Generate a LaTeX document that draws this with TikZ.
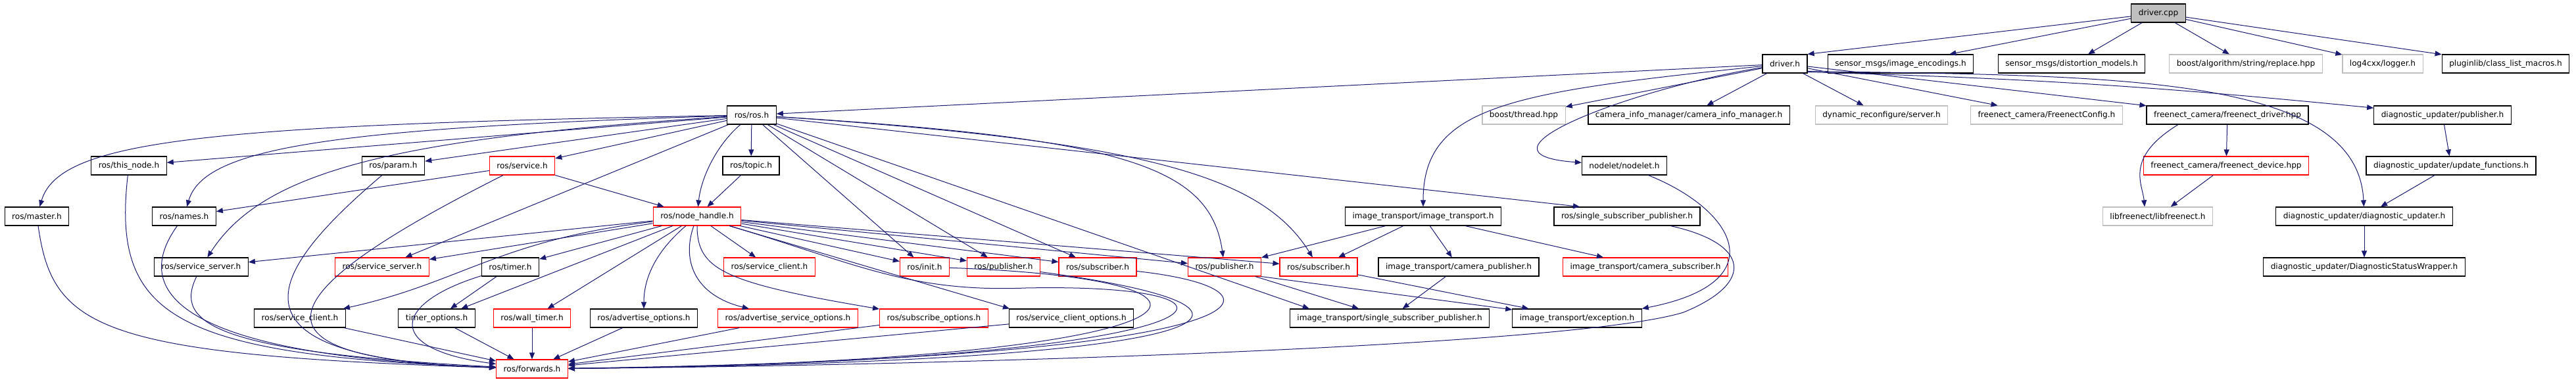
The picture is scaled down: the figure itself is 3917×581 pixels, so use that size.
\documentclass[tikz,border=0pt]{standalone}
\usepackage{fontspec}
\setmainfont{DejaVu Sans}
\usetikzlibrary{arrows.meta}
\definecolor{edgeblue}{HTML}{191970}
\definecolor{truncred}{HTML}{FF0000}
\definecolor{extgray}{HTML}{BFBFBF}
\tikzset{
  incl/.style={draw=black, line width=0.6pt, rectangle, minimum height=14pt,
    inner xsep=5.5pt, inner ysep=0pt, font=\fontsize{6.05}{7}\selectfont},
  incltrunc/.style={incl, draw=truncred},
  inclext/.style={incl, draw=extgray},
  srcfile/.style={incl, fill=extgray},
  dep/.style={draw=edgeblue, line width=0.5pt, -{Triangle[length=5pt,width=4pt]}}
}
\begin{document}
\begin{tikzpicture}[x=0.5pt, y=0.5pt]
      \useasboundingbox (0,0) rectangle (3917,-581);
      \node[srcfile] (cpp) at (3282,-20) {driver.cpp};
      \node[incl] (drv) at (2714,-97) {driver.h};
      \node[incl] (enc) at (2890,-97) {sensor\_msgs/image\_encodings.h};
      \node[incl] (dist) at (3150,-97) {sensor\_msgs/distortion\_models.h};
      \node[inclext] (repl) at (3415,-97) {boost/algorithm/string/replace.hpp};
      \node[inclext] (logger) at (3623,-97) {log4cxx/logger.h};
      \node[incl] (plug) at (3810,-97) {pluginlib/class\_list\_macros.h};
      \node[incl] (rosh) at (1143,-175) {ros/ros.h};
      \node[inclext] (thr) at (2317,-175) {boost/thread.hpp};
      \node[incl] (cim) at (2568,-175) {camera\_info\_manager/camera\_info\_manager.h};
      \node[inclext] (dyn) at (2861,-175) {dynamic\_reconfigure/server.h};
      \node[inclext] (fcfg) at (3112,-175) {freenect\_camera/FreenectConfig.h};
      \node[incl] (fdrv) at (3387,-175) {freenect\_camera/freenect\_driver.hpp};
      \node[incl] (dpub) at (3714,-175) {diagnostic\_updater/publisher.h};
      \node[incl] (thisn) at (196,-252) {ros/this\_node.h};
      \node[incl] (param) at (598,-252) {ros/param.h};
      \node[incltrunc] (srv) at (794,-252) {ros/service.h};
      \node[incl] (topic) at (1142,-252) {ros/topic.h};
      \node[incl] (nodelet) at (2470,-252) {nodelet/nodelet.h};
      \node[incltrunc] (fdev) at (3385,-252) {freenect\_camera/freenect\_device.hpp};
      \node[incl] (dupf) at (3727,-252) {diagnostic\_updater/update\_functions.h};
      \node[incl] (master) at (56,-329) {ros/master.h};
      \node[incl] (names) at (280,-329) {ros/names.h};
      \node[incltrunc] (nh) at (1060,-329) {ros/node\_handle.h};
      \node[incl] (itr) at (2164,-329) {image\_transport/image\_transport.h};
      \node[incl] (sspros) at (2474,-329) {ros/single\_subscriber\_publisher.h};
      \node[inclext] (libf) at (3281,-329) {libfreenect/libfreenect.h};
      \node[incl] (dupd) at (3595,-329) {diagnostic\_updater/diagnostic\_updater.h};
      \node[incl] (ssrv) at (306,-406) {ros/service\_server.h};
      \node[incltrunc] (ssrvr) at (581,-406) {ros/service\_server.h};
      \node[incl] (timer) at (776,-406) {ros/timer.h};
      \node[incltrunc] (sclir) at (1170,-406) {ros/service\_client.h};
      \node[incltrunc] (init) at (1406,-406) {ros/init.h};
      \node[incltrunc] (puba) at (1526,-406) {ros/publisher.h};
      \node[incltrunc] (suba) at (1669,-406) {ros/subscriber.h};
      \node[incltrunc] (pubb) at (1862,-406) {ros/publisher.h};
      \node[incltrunc] (subb) at (2005,-406) {ros/subscriber.h};
      \node[incl] (campub) at (2218,-406) {image\_transport/camera\_publisher.h};
      \node[incltrunc] (camsub) at (2502,-406) {image\_transport/camera\_subscriber.h};
      \node[incl] (dsw) at (3595,-406) {diagnostic\_updater/DiagnosticStatusWrapper.h};
      \node[incl] (scli) at (456,-484) {ros/service\_client.h};
      \node[incl] (topt) at (664,-484) {timer\_options.h};
      \node[incltrunc] (wallt) at (809,-484) {ros/wall\_timer.h};
      \node[incl] (advo) at (979,-484) {ros/advertise\_options.h};
      \node[incltrunc] (advso) at (1198,-484) {ros/advertise\_service\_options.h};
      \node[incltrunc] (subo) at (1420,-484) {ros/subscribe\_options.h};
      \node[incl] (sclo) at (1629,-484) {ros/service\_client\_options.h};
      \node[incl] (itssp) at (2113,-484) {image\_transport/single\_subscriber\_publisher.h};
      \node[incl] (itexc) at (2398,-484) {image\_transport/exception.h};
      \node[incltrunc] (fwd) at (809,-561) {ros/forwards.h};
      \draw[dep] (cpp) to (drv.north east);
      \draw[dep] (cpp) to (enc);
      \draw[dep] (cpp) to (dist);
      \draw[dep] (cpp) to (repl);
      \draw[dep] (cpp) to (logger);
      \draw[dep] (cpp) to (plug);
      \draw[dep] (drv) to (rosh);
      \draw[dep] (drv) to (thr);
      \draw[dep] (drv) to (cim);
      \draw[dep] (drv) to (dyn);
      \draw[dep] (drv) to (fcfg);
      \draw[dep] (drv) to (fdrv);
      \draw[dep] (drv.-20) to[bend left=2] (dpub);
      \draw[dep] (drv.-18) .. controls (3200,-116) and (3585,-110) .. (dupd);
      \draw[dep] (drv) .. controls (2480,-135) and (2220,-234) .. (nodelet);
      \draw[dep] (drv) .. controls (2300,-140) and (2164,-160) .. (itr);
      \draw[dep] (fdrv) to (fdev);
      \draw[dep] (fdrv.-169) .. controls (3230,-240) and (3258,-280) .. ([xshift=-10pt]libf.north);
      \draw[dep] (fdev) to (libf);
      \draw[dep] (dpub) to (dupf);
      \draw[dep] (dupf) to (dupd);
      \draw[dep] (dupd) to (dsw);
      \draw[dep] (rosh) .. controls (300,-190) and (90,-215) .. (master);
      \draw[dep] (rosh) to (thisn);
      \draw[dep] (rosh) .. controls (500,-195) and (310,-225) .. (names);
      \draw[dep] (rosh) .. controls (600,-210) and (400,-260) .. (ssrv);
      \draw[dep] (rosh) to (param);
      \draw[dep] (rosh) to (srv);
      \draw[dep] (rosh) to (ssrvr);
      \draw[dep] (rosh) to (topic);
      \draw[dep] (rosh) .. controls (1090,-220) and (1066,-270) .. (nh);
      \draw[dep] (rosh) to (init);
      \draw[dep] (rosh) to (puba);
      \draw[dep] (rosh) to (suba);
      \draw[dep] (rosh) to ([xshift=15pt]itssp.north west);
      \draw[dep] (rosh) .. controls (1700,-210) and (1840,-250) .. (pubb);
      \draw[dep] (rosh) .. controls (1750,-215) and (1920,-270) .. (subb);
      \draw[dep] (rosh) to ([xshift=-36pt]sspros.north);
      \draw[dep] (topic) to (nh);
      \draw[dep] (srv) to (names);
      \draw[dep] (srv) to (nh);
      \draw[dep] (srv) .. controls (420,-440) and (340,-545) .. (fwd);
      \draw[dep] (param) .. controls (400,-420) and (330,-545) .. (fwd);
      \draw[dep] (thisn) .. controls (170,-480) and (260,-540) .. (fwd);
      \draw[dep] (master) .. controls (80,-500) and (150,-540) .. (fwd);
      \draw[dep] (names) .. controls (200,-440) and (260,-540) .. (fwd);
      \draw[dep] (ssrv) .. controls (265,-490) and (320,-535) .. (fwd);
      \draw[dep] (nh) to (ssrv);
      \draw[dep] (nh) to (ssrvr);
      \draw[dep] (nh) to (timer);
      \draw[dep] (nh) .. controls (760,-365) and (700,-430) .. (scli);
      \draw[dep] (nh) to (topt);
      \draw[dep] (nh) to (wallt);
      \draw[dep] (nh) .. controls (1000,-380) and (979,-420) .. (advo);
      \draw[dep] (nh) .. controls (1035,-400) and (1060,-450) .. (advso);
      \draw[dep] (nh) .. controls (1060,-410) and (1100,-430) .. (subo);
      \draw[dep] (nh) to ([xshift=-47pt]sclo.north);
      \draw[dep] (nh) to (sclir);
      \draw[dep] (nh) to (init);
      \draw[dep] (nh) to (puba);
      \draw[dep] (nh) to (suba);
      \draw[dep] (nh) to (pubb);
      \draw[dep] (nh) to (subb);
      \draw[dep] (nh) .. controls (1300,-400) and (1380,-445) .. (1560,-438)
        .. controls (1960,-430) and (1900,-550) .. (fwd);
      \draw[dep] (timer) to (topt);
      \draw[dep] (timer) .. controls (600,-460) and (580,-530) .. (fwd);
      \draw[dep] (scli) to (fwd);
      \draw[dep] (topt) to (fwd);
      \draw[dep] (wallt) to (fwd);
      \draw[dep] (advo) to (fwd);
      \draw[dep] (advso) to (fwd);
      \draw[dep] (subo) to (fwd);
      \draw[dep] (sclo) to (fwd);
      \draw[dep] (init) .. controls (1950,-425) and (1870,-550) .. (fwd);
      \draw[dep] (puba) .. controls (2000,-470) and (1900,-550) .. (fwd);
      \draw[dep] (suba) .. controls (1980,-440) and (1960,-545) .. (fwd);
      \draw[dep] (itr) to (pubb);
      \draw[dep] (itr) to (subb);
      \draw[dep] (itr) to (campub);
      \draw[dep] (itr) to (camsub);
      \draw[dep] (pubb) to (itssp);
      \draw[dep] (pubb.south east) to (itexc);
      \draw[dep] (subb) to (itexc);
      \draw[dep] (campub) to (itssp);
      \draw[dep] (nodelet) .. controls (2640,-320) and (2700,-430) .. (itexc.north east);
      \draw[dep] (sspros) .. controls (2660,-370) and (2670,-430) .. (2560,-475)
        .. controls (2400,-525) and (1500,-555) .. (fwd);
    \end{tikzpicture}
\end{document}
